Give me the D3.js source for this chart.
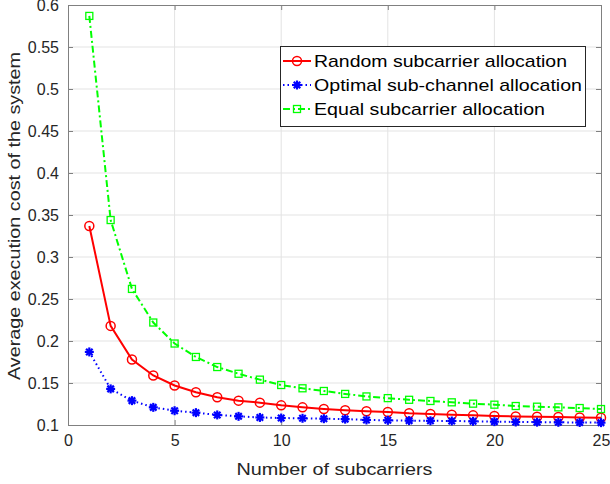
<!DOCTYPE html>
<html><head><meta charset="utf-8">
<script src="https://cdn.jsdelivr.net/npm/d3@7"></script>
<style>body{margin:0;background:#fff}svg{display:block}text{font-family:"Liberation Sans",Arial,sans-serif}</style>
</head><body>
<script>
const xs = d3.range(1, 26);
const randomAlloc = [0.337,0.218,0.178,0.159,0.147,0.139,0.133,0.129,0.1266,0.1234,0.121,0.119,0.1175,0.1163,0.1155,0.1139,0.1131,0.1123,0.1115,0.1107,0.1102,0.1099,0.1095,0.109,0.1087];
const optimalAlloc = [0.187,0.143,0.129,0.121,0.117,0.1147,0.112,0.1103,0.109,0.1083,0.108,0.1075,0.107,0.106,0.1056,0.1052,0.105,0.1048,0.1044,0.104,0.1036,0.1034,0.1032,0.103,0.1028];
const equalAlloc = [0.587,0.344,0.262,0.222,0.197,0.181,0.169,0.161,0.154,0.1476,0.1437,0.1405,0.137,0.134,0.132,0.130,0.1286,0.127,0.1254,0.1242,0.1226,0.1218,0.121,0.1202,0.119];
const seriesNames = ["Random subcarrier allocation","Optimal sub-channel allocation","Equal subcarrier allocation"];
const xTicks = [0,5,10,15,20,25];
const yTicks = [0.1,0.15,0.2,0.25,0.3,0.35,0.4,0.45,0.5,0.55,0.6];

const W=610,H=484, L=68,R=601,T=5,B=425;
const svg=d3.select("body").append("svg").attr("width",W).attr("height",H);
const x=d3.scaleLinear().domain([0,25]).range([L,R]);
const y=d3.scaleLinear().domain([0.1,0.6]).range([B,T]);

// grid
svg.append("g").selectAll("line").data(xTicks.slice(1,-1)).join("line")
  .attr("x1",d=>x(d)).attr("x2",d=>x(d)).attr("y1",T).attr("y2",B).attr("stroke","#e3e3e3").attr("stroke-width",1);
svg.append("g").selectAll("line").data(yTicks.slice(1,-1)).join("line")
  .attr("y1",d=>y(d)).attr("y2",d=>y(d)).attr("x1",L).attr("x2",R).attr("stroke","#e3e3e3").attr("stroke-width",1);

// axes
const axCol="#808080";
const gx=svg.append("g").attr("transform",`translate(0,${B})`).call(d3.axisBottom(x).tickValues(xTicks).tickSizeInner(-5).tickSizeOuter(0).tickPadding(10).tickFormat(d3.format("d")));
const gxt=svg.append("g").attr("transform",`translate(0,${T})`).call(d3.axisTop(x).tickValues(xTicks).tickSizeInner(-5).tickSizeOuter(0).tickFormat(""));
const gy=svg.append("g").attr("transform",`translate(${L},0)`).call(d3.axisLeft(y).tickValues(yTicks).tickSizeInner(-5).tickSizeOuter(0).tickPadding(9).tickFormat(d=>String(+d.toFixed(2))));
const gyr=svg.append("g").attr("transform",`translate(${R},0)`).call(d3.axisRight(y).tickValues(yTicks).tickSizeInner(-5).tickSizeOuter(0).tickFormat(""));
[gx,gxt,gy,gyr].forEach(g=>{g.selectAll("path").attr("stroke",axCol);g.selectAll("line").attr("stroke",axCol);
  g.selectAll("text").attr("fill","#262626").style("font-size","16px").style("font-family","'Liberation Sans',Arial,sans-serif");});

svg.append("text").attr("x",(L+R)/2).attr("y",475).attr("text-anchor","middle").attr("fill","#262626").style("font-size","17px")
  .attr("textLength",196).attr("lengthAdjust","spacingAndGlyphs").text("Number of subcarriers");
svg.append("text").attr("transform",`translate(20,${(T+B)/2+1}) rotate(-90)`).attr("text-anchor","middle").attr("fill","#262626").style("font-size","17px")
  .attr("textLength",328).attr("lengthAdjust","spacingAndGlyphs").text("Average execution cost of the system");

const line=d3.line().x((d,i)=>x(xs[i])).y(d=>y(d));
const cfg=[
 {data:randomAlloc,color:"#ff0000",dash:null,marker:"circle",len:253},
 {data:optimalAlloc,color:"#0000ff",dash:"1.5,3",marker:"star",len:268},
 {data:equalAlloc,color:"#00ff00",dash:"7,3,2,3",marker:"square",len:231}
];
function drawMarker(g,type,cx,cy,color){
  if(type==="circle") g.append("circle").attr("cx",cx).attr("cy",cy).attr("r",4.5).attr("fill","none").attr("stroke",color).attr("stroke-width",1.5);
  else if(type==="square") g.append("rect").attr("x",cx-3.5).attr("y",cy-3.5).attr("width",7).attr("height",7).attr("fill","none").attr("stroke",color).attr("stroke-width",1.3);
  else { const r=4.5; [[r,0],[0,r],[r*0.72,r*0.72],[r*0.72,-r*0.72]].forEach(([dx,dy])=>
     g.append("line").attr("x1",cx-dx).attr("y1",cy-dy).attr("x2",cx+dx).attr("y2",cy+dy).attr("stroke",color).attr("stroke-width",2.2));
     g.append("circle").attr("cx",cx).attr("cy",cy).attr("r",2.5).attr("fill",color); }
}
cfg.forEach(c=>{
  svg.append("path").datum(c.data).attr("d",line).attr("fill","none").attr("stroke",c.color).attr("stroke-width",2).attr("stroke-dasharray",c.dash);
  const g=svg.append("g");
  c.data.forEach((v,i)=>drawMarker(g,c.marker,x(xs[i]),y(v),c.color));
});

// legend
const lg=svg.append("g");
lg.append("rect").attr("x",280.5).attr("y",46.5).attr("width",305).attr("height",80).attr("fill","#fff").attr("stroke","#262626").attr("stroke-width",1);
cfg.forEach((c,i)=>{
  const yy=61+i*24;
  lg.append("line").attr("x1",283).attr("x2",311).attr("y1",yy).attr("y2",yy).attr("stroke",c.color).attr("stroke-width",2).attr("stroke-dasharray",c.dash);
  drawMarker(lg,c.marker,297,yy,c.color);
  lg.append("text").attr("x",314).attr("y",yy+6).attr("fill","#000").style("font-size","17px")
    .attr("textLength",c.len).attr("lengthAdjust","spacingAndGlyphs").text(seriesNames[i]);
});
</script>
</body></html>
